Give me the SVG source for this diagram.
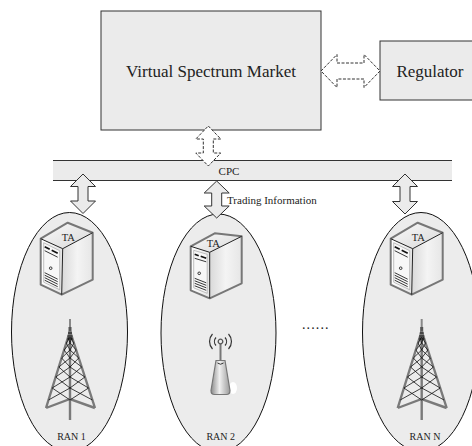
<svg xmlns="http://www.w3.org/2000/svg" width="472" height="446" viewBox="0 0 472 446">
  <style>
    text { font-family: "Liberation Serif", "Times New Roman", serif; fill: #222; }
    .box { fill: #ebebeb; stroke: #333; stroke-width: 1; }
    .ran { fill: #ececec; stroke: #111; stroke-width: 1; }
    .link { fill: #ebebeb; stroke: #333; stroke-width: 1; stroke-linejoin: miter; }
    .dash { fill: #fff; stroke: #333; stroke-width: 1; stroke-dasharray: 3 1.5; }
    .srv-edge { fill: none; stroke: #777; stroke-width: 2; stroke-linejoin: round; }
    .srv-line { fill: none; stroke: #222; stroke-width: 0.9; }
    .leg { fill: none; stroke: #7a7a7a; stroke-width: 2.4; stroke-linecap: butt; }
    .lattice { fill: none; stroke: #111; stroke-width: 0.8; }
  </style>
  <defs>
    <linearGradient id="gTop" x1="0" y1="0" x2="1" y2="1">
      <stop offset="0" stop-color="#fafafa"/>
      <stop offset="1" stop-color="#d8d8d8"/>
    </linearGradient>
    <linearGradient id="gSide" x1="0" y1="0" x2="1" y2="0">
      <stop offset="0" stop-color="#d9d9d9"/>
      <stop offset="0.5" stop-color="#f4f4f4"/>
      <stop offset="1" stop-color="#e6e6e6"/>
    </linearGradient>
    <linearGradient id="gFront" x1="0" y1="0" x2="1" y2="0">
      <stop offset="0" stop-color="#ffffff"/>
      <stop offset="1" stop-color="#e4e4e4"/>
    </linearGradient>
    <linearGradient id="gAp" x1="0" y1="0" x2="1" y2="0">
      <stop offset="0" stop-color="#8a8a8a"/>
      <stop offset="0.45" stop-color="#f0f0f0"/>
      <stop offset="1" stop-color="#9a9a9a"/>
    </linearGradient>

    <!-- tower server, front face on the left -->
    <g id="server">
      <path d="M0,16 L27,0 L52,10 L22,26 Z" fill="url(#gTop)"/>
      <path d="M22,26 L52,10 L52,57 L21,72 Z" fill="url(#gSide)"/>
      <path d="M0,16 L22,26 L21,72 L0,62 Z" fill="url(#gFront)"/>
      <path d="M3,20 L19,28 L19,67 L3,59.5 Z" fill="#f7f7f7" stroke="#999" stroke-width="0.6"/>
      <path d="M0,16 L27,0 L52,10 L52,57 L21,72 L0,62 Z" class="srv-edge"/>
      <path d="M0,16 L22,26 L52,10 M22,26 L21,72" fill="none" stroke="#222" stroke-width="1"/>
      <path d="M4,24 L9,26.5 M11,27.5 L17,30.5" fill="none" stroke="#111" stroke-width="1.6"/>
      <path d="M4,28 L17,34.5" class="srv-line"/>
      <circle cx="10" cy="45.5" r="1.3" fill="none" stroke="#222" stroke-width="0.9"/>
      <path d="M4,50 L17,56.5 M4,52.5 L17,59 M4,55 L17,61.5 M4,57.5 L17,64" class="srv-line"/>
    </g>

    <!-- lattice transmission tower, origin at the mast tip -->
    <g id="tower">
      <line x1="0" y1="0" x2="0" y2="14" stroke="#888" stroke-width="2"/>
      <line x1="0" y1="8" x2="0" y2="18" stroke="#555" stroke-width="3"/>
      <path d="M0,12 L-24,89 M0,12 L25,89 M0,12 L0,101 M-24,89 L0,80 L25,89" class="leg"/>
      <path class="lattice" d="M-1.9,18L0,24M0,18L-3.7,24 M-3.7,24L0,31M0,24L-5.9,31 M-5.9,31L0,39M0,31L-8.4,39 M-8.4,39L0,48M0,39L-11.2,48 M-11.2,48L0,58M0,48L-14.3,58 M-14.3,58L0,69M0,58L-17.8,69 M-17.8,69L0,81M0,69L-21.5,81 M1.9,18L0,24M0,18L3.9,24 M3.9,24L0,31M0,24L6.2,31 M6.2,31L0,39M0,31L8.8,39 M8.8,39L0,48M0,39L11.7,48 M11.7,48L0,58M0,48L14.9,58 M14.9,58L0,69M0,58L18.5,69 M18.5,69L0,81M0,69L22.4,81"/>
      <path d="M-2,14 L2,14 M-2.5,17 L2.5,17 M-3,20 L3,20" stroke="#111" stroke-width="1"/>
    </g>
  </defs>

  <!-- market and regulator -->
  <g id="market">
    <rect class="box" x="101" y="11" width="220" height="119"/>
    <text x="211" y="77" font-size="17" text-anchor="middle">Virtual Spectrum Market</text>
  </g>
  <g id="regulator">
    <rect class="box" x="380" y="41" width="100" height="59"/>
    <text x="430" y="77" font-size="17" text-anchor="middle">Regulator</text>
  </g>

  <!-- common pilot channel bus -->
  <g id="cpc">
    <rect x="53" y="160" width="399" height="21" fill="#ebebeb"/>
    <path d="M53,160.5 H452 M53,180.5 H452" stroke="#333" stroke-width="1"/>
    <text x="229" y="174.5" font-size="11" text-anchor="middle">CPC</text>
  </g>

  <!-- radio access networks -->
  <g id="ran1">
    <ellipse class="ran" cx="69.5" cy="332" rx="58" ry="119.5"/>
    <use href="#server" x="40.7" y="222.7"/>
    <text x="68.3" y="240.5" font-size="10.5" text-anchor="middle">TA</text>
    <use href="#tower" x="70" y="319"/>
    <text x="71.5" y="440" font-size="10" text-anchor="middle">RAN 1</text>
  </g>

  <g id="ran2">
    <ellipse class="ran" cx="218.5" cy="333" rx="57.5" ry="119"/>
    <g id="server2" transform="translate(190.7,233.3)">
      <path d="M0,13 L24,0 L51,3 L19,19 Z" fill="url(#gTop)"/>
      <path d="M19,19 L51,3 L51,50 L19,65 Z" fill="url(#gSide)"/>
      <path d="M0,13 L19,19 L19,65 L0,57 Z" fill="url(#gFront)"/>
      <path d="M3,17 L16.5,21 L16.5,60 L3,54.5 Z" fill="#f7f7f7" stroke="#999" stroke-width="0.6"/>
      <path d="M0,13 L24,0 L51,3 L51,50 L19,65 L0,57 Z" class="srv-edge"/>
      <path d="M0,13 L19,19 L51,3 M19,19 L19,65" fill="none" stroke="#222" stroke-width="1"/>
      <path d="M4,21 L8,22.5 M10,23 L15.5,25" fill="none" stroke="#111" stroke-width="1.6"/>
      <path d="M4,25 L15.5,28.5" class="srv-line"/>
      <circle cx="8.5" cy="40" r="1.3" fill="none" stroke="#222" stroke-width="0.9"/>
      <path d="M4,45 L15.5,49.5 M4,47.5 L15.5,52 M4,50 L15.5,54.5 M4,52.5 L15.5,57" class="srv-line"/>
    </g>
    <text x="213.3" y="247" font-size="10.5" text-anchor="middle">TA</text>
    <g id="access-point" transform="translate(220.5,341.5)">
      <ellipse cx="12.5" cy="46.5" rx="4" ry="6" fill="#fff"/>
      <line x1="0" y1="2.5" x2="0" y2="20" stroke="#777" stroke-width="2"/>
      <path d="M-4.5,19 L4.5,19 L9.5,49 Q9.5,53 6,53 L-6,53 Q-9.5,53 -9.5,49 Z" fill="url(#gAp)" stroke="#777" stroke-width="1.2"/>
      <path d="M-3,21.5 Q0,24 3,21.5" fill="none" stroke="#333" stroke-width="1"/>
      <circle cx="0" cy="0" r="2.3" fill="none" stroke="#555" stroke-width="1.3"/>
      <path d="M-4.5,-4 A6,6 0 0 0 -4.5,4 M4.5,-4 A6,6 0 0 1 4.5,4 M-8,-7.5 A11,11 0 0 0 -8,7.5 M8,-7.5 A11,11 0 0 1 8,7.5" fill="none" stroke="#333" stroke-width="1.2"/>
    </g>
    <text x="220.7" y="440" font-size="10" text-anchor="middle">RAN 2</text>
  </g>

  <g id="ranN">
    <ellipse class="ran" cx="421" cy="332" rx="58.5" ry="119.5"/>
    <use href="#server" x="390.7" y="222.7"/>
    <text x="418.3" y="240.5" font-size="10.5" text-anchor="middle">TA</text>
    <use href="#tower" x="421.7" y="319"/>
    <text x="425" y="440" font-size="10" text-anchor="middle">RAN N</text>
  </g>

  <text x="302" y="329" font-size="14" letter-spacing="1.1">......</text>

  <!-- connectors: two-way block arrows -->
  <g id="connectors">
    <path class="dash" d="M321,71 L337,54.5 L337,63 L364,63 L364,54.5 L380,71 L364,87.5 L364,79 L337,79 L337,87.5 Z"/>
    <path class="dash" d="M208.3,126 L220.8,139 L213.3,139 L213.3,153 L220.8,153 L208.3,166 L195.8,153 L203.3,153 L203.3,139 L195.8,139 Z"/>
    <path class="link" d="M83,174 L95.5,186.5 L88,186.5 L88,201 L95.5,201 L83,213.5 L70.5,201 L78,201 L78,186.5 L70.5,186.5 Z"/>
    <path class="link" d="M216.7,181 L229.2,193 L221.7,193 L221.7,206 L229.2,206 L216.7,218 L204.2,206 L211.7,206 L211.7,193 L204.2,193 Z"/>
    <path class="link" d="M405,174 L417.5,186.5 L410,186.5 L410,201.5 L417.5,201.5 L405,214 L392.5,201.5 L400,201.5 L400,186.5 L392.5,186.5 Z"/>
    <text x="227" y="204" font-size="11">Trading Information</text>
  </g>
</svg>
